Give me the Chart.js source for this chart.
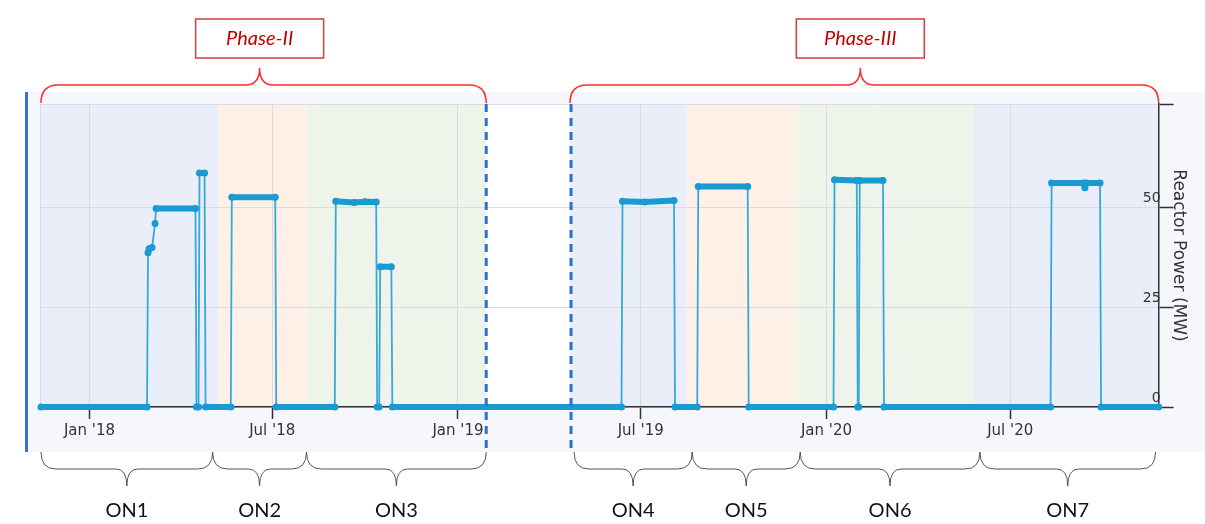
<!DOCTYPE html>
<html lang="en">
<head>
<meta charset="UTF-8">
<meta name="viewport" content="width=device-width, initial-scale=1">
<title>Reactor Power</title>
<script src="https://cdn.jsdelivr.net/npm/chart.js"></script>
<style>
    body { margin: 0; background: #fff; }
    .wrap { position: relative; width: 1205px; height: 524px; }
</style>
</head>
<body>
<div class="wrap"><canvas id="powerChart"></canvas></div>
<script>
// breakpoints of the power trace
const dates = [
    '2017-11-14', '2018-02-27', '2018-02-28', '2018-03-01', '2018-03-04', '2018-03-07', '2018-03-08', '2018-04-16', '2018-04-17',
    '2018-04-19', '2018-04-20', '2018-04-25', '2018-04-26',
    '2018-05-21', '2018-05-22', '2018-07-04', '2018-07-05',
    '2018-09-01', '2018-09-02', '2018-09-20', '2018-10-01', '2018-10-12', '2018-10-13',
    '2018-10-15', '2018-10-16', '2018-10-27', '2018-10-28',
    '2019-06-12', '2019-06-13', '2019-07-05', '2019-08-03', '2019-08-04',
    '2019-08-26', '2019-08-27', '2019-10-15', '2019-10-16',
    '2020-01-08', '2020-01-09', '2020-01-31', '2020-02-01', '2020-02-02', '2020-02-03', '2020-02-26', '2020-02-27',
    '2020-08-10', '2020-08-11', '2020-09-12', '2020-09-13', '2020-09-14', '2020-09-28', '2020-09-29', '2020-11-25'
];
const power = [
    0, 0, 38.7, 39.7, 40, 46, 49.8, 49.8, 0,
    0, 58.7, 58.7, 0,
    0, 52.6, 52.6, 0,
    0, 51.6, 51.3, 51.5, 51.4, 0,
    0, 35.2, 35.2, 0,
    0, 51.6, 51.4, 51.8, 0,
    0, 55.3, 55.3, 0,
    0, 57.0, 56.8, 0, 0, 56.8, 56.8, 0,
    0, 56.2, 56.2, 55, 56.2, 56.2, 0, 0
];

const xMin = '2017-11-13';
const xMax = '2020-11-25';
const tickDates = ['2018-01-01', '2018-07-01', '2019-01-01', '2019-07-01', '2020-01-01', '2020-07-01'];
const tickLabels = ["Jan '18", "Jul '18", "Jan '19", "Jul '19", "Jan '20", "Jul '20"];
const yTicks = [0, 25, 50, 76];

// operating campaigns: shaded bands and the braces under the axis
const campaigns = ['ON1', 'ON2', 'ON3', 'ON4', 'ON5', 'ON6', 'ON7'];
const bandStart = ['2017-11-13', '2018-05-09', '2018-08-04', '2019-04-22', '2019-08-16', '2019-12-04', '2020-05-26'];
const bandEnd = ['2018-05-09', '2018-08-04', '2019-01-29', '2019-08-16', '2019-12-04', '2020-05-26', '2020-11-25'];
const braceStart = ['2017-11-14', '2018-05-03', '2018-08-04', '2019-04-26', '2019-08-21', '2019-12-06', '2020-06-01'];
const braceEnd = ['2018-05-03', '2018-08-04', '2019-01-29', '2019-08-21', '2019-12-06', '2020-06-01', '2020-11-22'];

// phases
const phases = ['Phase-II', 'Phase-III'];
const phaseStart = ['2017-11-14', '2019-04-22'];
const phaseEnd = ['2019-01-29', '2020-11-25'];
const phaseSplit = ['2019-01-29', '2019-04-23'];

const bandColors = ['#e9eef8', '#fcf0e7', '#eef4ea'];

function day(s) {
    return (Date.parse(s) - Date.parse('2018-01-01')) / 86400000;
}

function brace(ctx, x0, x1, xc, yEnd, yLine, yTip, rx, cw) {
    ctx.beginPath();
    ctx.moveTo(x0, yEnd);
    ctx.quadraticCurveTo(x0, yLine, x0 + rx, yLine);
    ctx.lineTo(xc - cw, yLine);
    ctx.quadraticCurveTo(xc, yLine, xc, yTip);
    ctx.quadraticCurveTo(xc, yLine, xc + cw, yLine);
    ctx.lineTo(x1 - rx, yLine);
    ctx.quadraticCurveTo(x1, yLine, x1, yEnd);
    ctx.stroke();
}

const decor = {
    id: 'decor',
    beforeDraw(chart) {
        const { ctx, chartArea: a, scales: { x } } = chart;
        ctx.save();
        ctx.fillStyle = '#f6f7fc';
        ctx.fillRect(27, 92, chart.width - 27, 360);
        ctx.fillStyle = '#ffffff';
        ctx.fillRect(a.left, a.top, a.width, a.height);
        bandStart.forEach((s, i) => {
            const x0 = x.getPixelForValue(day(s));
            const x1 = x.getPixelForValue(day(bandEnd[i]));
            ctx.fillStyle = bandColors[i % 3];
            ctx.fillRect(x0, a.top, x1 - x0, a.height);
        });
        ctx.strokeStyle = '#d8dbe2';
        ctx.lineWidth = 1;
        ctx.beginPath();
        ctx.moveTo(a.left + 0.5, a.top);
        ctx.lineTo(a.left + 0.5, a.bottom);
        ctx.stroke();
        ctx.fillStyle = '#3b6fcf';
        ctx.fillRect(25, 92, 3, 360);
        ctx.restore();
    },
    afterDraw(chart) {
        const { ctx, chartArea: a, scales: { x } } = chart;
        ctx.save();

        // dashed phase boundaries
        ctx.strokeStyle = '#2c6fcc';
        ctx.lineWidth = 3;
        ctx.setLineDash([8, 6]);
        phaseSplit.forEach(d => {
            const px = x.getPixelForValue(day(d));
            ctx.beginPath();
            ctx.moveTo(px, a.top);
            ctx.lineTo(px, 452);
            ctx.stroke();
        });
        ctx.setLineDash([]);

        // phase braces and boxes
        ctx.textAlign = 'center';
        ctx.textBaseline = 'middle';
        phases.forEach((p, i) => {
            const x0 = x.getPixelForValue(day(phaseStart[i]));
            const x1 = x.getPixelForValue(day(phaseEnd[i]));
            const xc = (x0 + x1) / 2 - 4;
            ctx.strokeStyle = '#ff2b2b';
            ctx.lineWidth = 1.5;
            brace(ctx, x0, x1, xc, 103, 85, 68, 17, 14);
            ctx.fillStyle = '#ffffff';
            ctx.fillRect(xc - 64, 19, 128, 39);
            ctx.strokeStyle = '#d23c3c';
            ctx.lineWidth = 1.5;
            ctx.strokeRect(xc - 64, 19, 128, 39);
            ctx.fillStyle = '#c00000';
            ctx.font = 'italic 20px Lato';
            ctx.fillText(p, xc, 39);
        });

        // campaign braces and labels
        campaigns.forEach((c, i) => {
            const x0 = x.getPixelForValue(day(braceStart[i]));
            const x1 = x.getPixelForValue(day(braceEnd[i]));
            const xc = (x0 + x1) / 2;
            ctx.strokeStyle = '#555555';
            ctx.lineWidth = 1;
            brace(ctx, x0, x1, xc, 452, 469, 486, 15, 11);
            ctx.fillStyle = '#111111';
            ctx.font = '20px Lato';
            ctx.fillText(c, xc, 511);
        });
        ctx.restore();
    }
};

const flat = c => Math.abs(c.p0.parsed.y - c.p1.parsed.y) < 2;

new Chart(document.getElementById('powerChart'), {
    type: 'line',
    data: {
        datasets: [{
            label: 'Reactor Power',
            data: dates.map((d, i) => ({ x: day(d), y: power[i] })),
            clip: { left: 4, top: 4, right: 4, bottom: 6 },
            borderColor: '#1a9ad3',
            backgroundColor: '#1a9ad3',
            borderWidth: 2,
            borderCapStyle: 'round',
            borderJoinStyle: 'round',
            pointRadius: 3.5,
            pointBorderWidth: 0,
            pointBackgroundColor: '#1a9ad3',
            segment: {
                borderWidth: c => flat(c) ? 6 : 1.8,
                borderColor: c => flat(c) ? '#1a9ad3' : '#38a8d8'
            }
        }]
    },
    options: {
        responsive: true,
        maintainAspectRatio: false,
        animation: false,
        layout: { padding: { left: 40, top: 104, right: 16, bottom: 81 } },
        plugins: {
            legend: { display: false },
            tooltip: { enabled: false }
        },
        scales: {
            x: {
                type: 'linear',
                min: day(xMin),
                max: day(xMax),
                afterBuildTicks: s => { s.ticks = tickDates.map(d => ({ value: day(d) })); },
                ticks: {
                    autoSkip: false,
                    maxRotation: 0,
                    padding: 3,
                    color: '#333',
                    font: { family: 'DejaVu Sans', size: 15 },
                    callback: (v, i) => tickLabels[i]
                },
                grid: { color: '#d9dbe1', tickColor: '#333', tickLength: 12, tickWidth: 1.5 },
                border: { color: '#333', width: 1.5 }
            },
            y: {
                position: 'right',
                min: 0,
                max: 76,
                afterBuildTicks: s => { s.ticks = yTicks.map(v => ({ value: v })); },
                ticks: {
                    mirror: true,
                    padding: 2,
                    labelOffset: -9,
                    color: '#333',
                    font: { family: 'DejaVu Sans', size: 14 },
                    callback: v => (v <= 50 ? v : '')
                },
                grid: { color: '#d9dbe1', tickColor: '#333', tickLength: 15, tickWidth: 1.5 },
                border: { color: '#333', width: 1.5 },
                title: {
                    display: true,
                    text: 'Reactor Power (MW)',
                    color: '#333',
                    font: { family: 'DejaVu Sans', size: 17 },
                    padding: { top: 0, bottom: -9 }
                }
            }
        }
    },
    plugins: [decor]
});
</script>
</body>
</html>
